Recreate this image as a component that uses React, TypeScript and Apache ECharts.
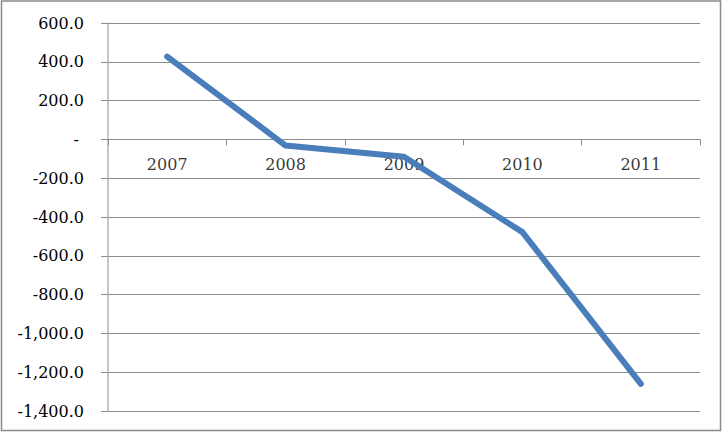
import React, { useEffect, useRef } from "react";
import * as echarts from "echarts";

const categories = ["2007", "2008", "2009", "2010", "2011"];
const values = [427, -32, -89, -478, -1260];
const yMin = -1400;
const yMax = 600;
const yStep = 200;

function fmt(v: number): string {
  if (v === 0) return "- ";
  return v.toLocaleString("en-US", { minimumFractionDigits: 1, maximumFractionDigits: 1 });
}

export default function App() {
  const ref = useRef<HTMLDivElement>(null);
  useEffect(() => {
    if (!ref.current) return;
    const chart = echarts.init(ref.current, null, { renderer: "svg" });
    chart.setOption({
      animation: false,
      backgroundColor: "#ffffff",
      textStyle: { fontFamily: "DejaVu Serif" },
      grid: { left: 108, right: 24, top: 23, bottom: 21, containLabel: false, outerBoundsMode: "none" },
      graphic: [
        {
          type: "rect",
          shape: { x: 1.5, y: 1, width: 719, height: 429.5 },
          style: { fill: "none", stroke: "#8a8a8a", lineWidth: 1.5 },
          silent: true,
        },
      ],
      xAxis: {
        type: "category",
        data: categories,
        boundaryGap: true,
        axisLine: { onZero: true, lineStyle: { color: "#8c8c8c", width: 1 } },
        axisTick: { show: true, alignWithLabel: false, length: 6, lineStyle: { color: "#8c8c8c" } },
        axisLabel: { show: false },
        splitLine: { show: false },
      },
      yAxis: {
        type: "value",
        min: yMin,
        max: yMax,
        interval: yStep,
        axisLine: { show: true, lineStyle: { color: "#b4b4b4", width: 1.5 } },
        axisTick: { show: true, length: 7, lineStyle: { color: "#8c8c8c" } },
        axisLabel: {
          color: "#000",
          fontSize: 16,
          fontFamily: "DejaVu Serif",
          margin: 24,
          formatter: (v: number) => fmt(v),
        },
        splitLine: { show: true, lineStyle: { color: "#8c8c8c", width: 1 } },
      },
      series: [
        {
          type: "scatter",
          data: categories.map((c) => [c, 0]),
          symbolSize: 0,
          silent: true,
          z: 1,
          label: {
            show: true,
            position: "bottom",
            distance: 17,
            color: "#000",
            fontSize: 16,
            fontFamily: "DejaVu Serif",
            formatter: (p: any) => p.name || p.value[0],
          },
        },
        {
          type: "line",
          data: values,
          symbol: "none",
          z: 3,
          lineStyle: { color: "#4A7EBB", width: 6, cap: "round", join: "round" },
        },
      ],
    });
    return () => chart.dispose();
  }, []);
  return (
    <div
      ref={ref}
      style={{ position: "fixed", left: 0, top: 0, width: 724, height: 432 }}
    />
  );
}
